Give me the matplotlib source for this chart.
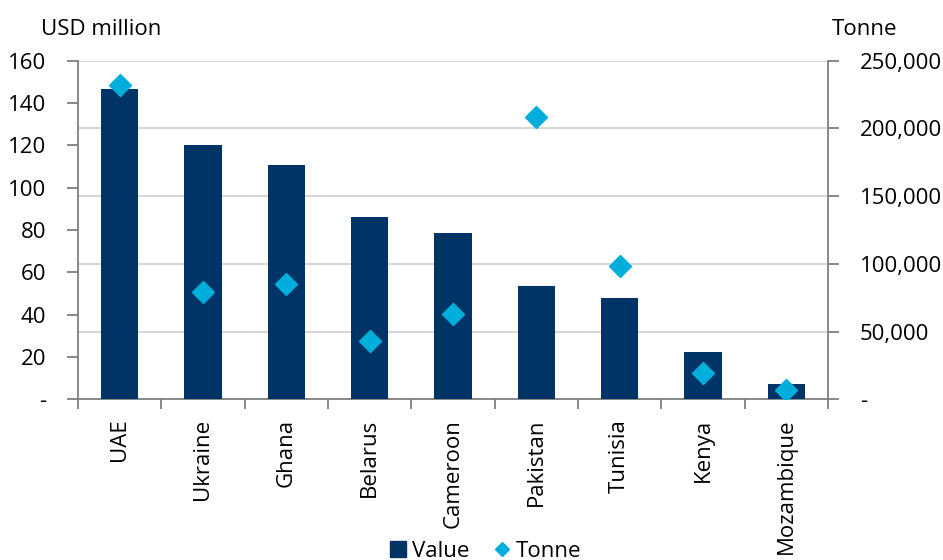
import matplotlib
matplotlib.use("Agg")
import matplotlib.pyplot as plt
from matplotlib.lines import Line2D
from matplotlib.ticker import FuncFormatter, MultipleLocator
import numpy as np

countries = ["UAE", "Ukraine", "Ghana", "Belarus", "Cameroon",
             "Pakistan", "Tunisia", "Kenya", "Mozambique"]
value_usd_m = [146.8, 120.3, 110.9, 86.0, 78.4, 53.5, 47.7, 22.5, 7.2]
tonne = [231800, 79000, 85100, 43100, 62700, 208700, 98200, 19200, 7100]

NAVY = "#003366"
CYAN = "#00AEDC"
GRID = "#D4D2CE"
SPINE = "#7F7F7F"

LEFT_MAX, RIGHT_MAX = 160, 250000

plt.rcParams["font.family"] = ["Open Sans", "DejaVu Sans"]
plt.rcParams["font.size"] = 16


def dash_zero(fmt):
    return FuncFormatter(lambda v, p: "-" if abs(v) < 1e-9 else fmt.format(v))


fig = plt.figure(figsize=(9.43, 5.6), dpi=100)
ax = fig.add_axes([0.0827, 0.287, 0.7953, 0.6047])
ax2 = ax.twinx()

x = np.arange(len(countries))

# gridlines sit at the right-axis ticks but behind the bars
right_ticks = np.arange(50000, RIGHT_MAX + 1, 50000)
for t in right_ticks:
    ax.axhline(t * LEFT_MAX / RIGHT_MAX, color=GRID, lw=1.3, zorder=0)

ax.bar(x, value_usd_m, width=0.45, color=NAVY, zorder=3)
ax2.plot(x, tonne, ls="none", marker="D", ms=11.5, color=CYAN, zorder=4)

ax.set_xlim(-0.5, len(countries) - 0.5)
ax.set_ylim(0, LEFT_MAX)
ax2.set_ylim(0, RIGHT_MAX)
ax.yaxis.set_major_locator(MultipleLocator(20))
ax2.yaxis.set_major_locator(MultipleLocator(50000))
ax.yaxis.set_major_formatter(dash_zero("{:.0f}"))
ax2.yaxis.set_major_formatter(dash_zero("{:,.0f}"))

ax.set_xticks(x)
ax.set_xticklabels(countries, rotation=90, va="top", ha="center")
ax.set_xticks(np.arange(len(countries) + 1) - 0.5, minor=True)
ax.tick_params(axis="x", which="major", length=0, pad=14)
ax.tick_params(axis="x", which="minor", length=7, width=1.3, color=SPINE)
ax.tick_params(axis="y", length=8, width=1.3, color=SPINE, pad=15)
ax2.tick_params(axis="y", length=8, width=1.3, color=SPINE, pad=15)

for a in (ax, ax2):
    a.spines["top"].set_visible(False)
    for s in ("left", "right", "bottom"):
        a.spines[s].set_color(SPINE)
        a.spines[s].set_linewidth(1.3)
ax.spines["right"].set_visible(False)
ax2.spines["left"].set_visible(False)
ax2.spines["bottom"].set_visible(False)

fig.text(0.044, 0.947, "USD million", ha="left", va="center")
fig.text(0.882, 0.947, "Tonne", ha="left", va="center")

handles = [Line2D([], [], ls="none", marker="s", ms=11, color=NAVY),
           Line2D([], [], ls="none", marker="D", ms=7, color=CYAN)]
fig.legend(handles, ["Value", "Tonne"], loc="center", ncol=2,
           bbox_to_anchor=(0.515, 0.016), frameon=False,
           handlelength=0.7, handletextpad=0.3, columnspacing=1.1)

fig.savefig("out.png", dpi=100)
